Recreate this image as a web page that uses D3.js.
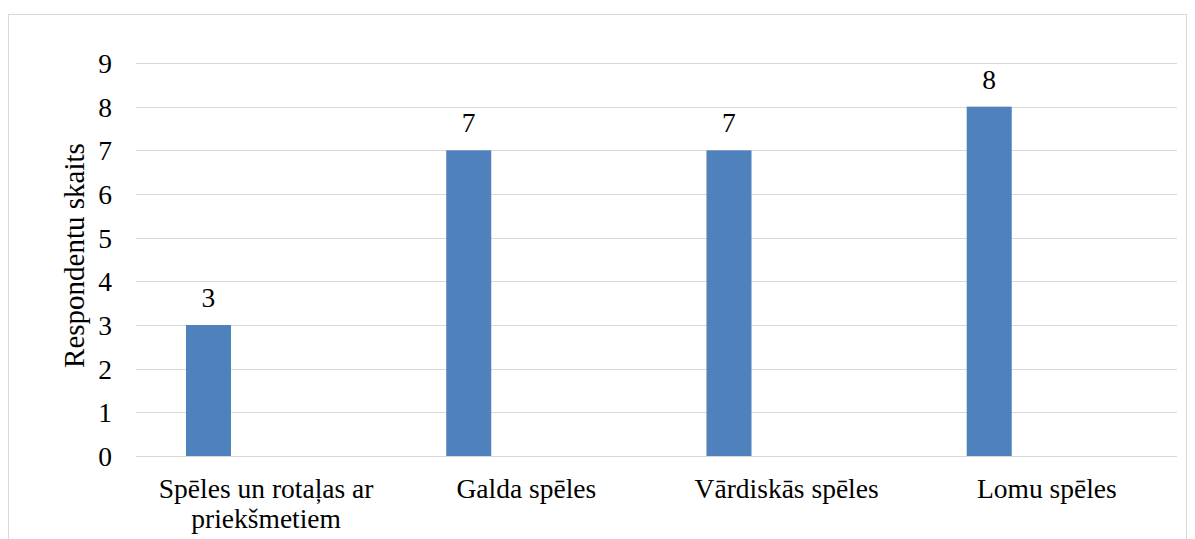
<!DOCTYPE html>
<meta charset="utf-8">
<style>
 body { margin: 0; background: #fff; }
 svg, svg text, svg tspan { font-family: "Times New Roman", "Liberation Serif", Tinos, "DejaVu Serif", serif !important; fill: #000; }
 .grid line { stroke: #d9d9d9; stroke-width: 1.3; shape-rendering: crispEdges; }
 svg rect.bar { fill: #4f81bd; }
</style>
<body>
<script src="https://cdn.jsdelivr.net/npm/d3@7"></script>
<script>

 var categories = ["Spēles un rotaļas ar priekšmetiem", "Galda spēles", "Vārdiskās spēles", "Lomu spēles"];
 var values = [3, 7, 7, 8];
 var yTicks = [0, 1, 2, 3, 4, 5, 6, 7, 8, 9];
 var yLabel = "Respondentu skaits";

 var W = 1195, H = 539;
 var margin = {top: 63, right: 18, bottom: 83, left: 136},
     width = W - margin.left - margin.right,
     height = H - margin.top - margin.bottom;
 var fs = "27.5px";

 var svg = d3.select("body").append("svg")
             .attr("width", W)
             .attr("height", H);

 // chart border
 svg.append("rect")
    .attr("x", 8.5).attr("y", 14.5)
    .attr("width", 1178).attr("height", 560)
    .attr("fill", "none")
    .attr("stroke", "#d9d9d9")
    .attr("stroke-width", 1);

 var g = svg.append("g")
            .attr("transform", "translate(" + margin.left + "," + margin.top + ")");

 var x = d3.scaleBand().domain(categories).range([0, width]);
 var y = d3.scaleLinear().domain([0, 9]).range([height, 0]);

 // gridlines
 g.append("g").attr("class", "grid")
  .selectAll("line")
  .data(yTicks)
  .enter().append("line")
  .attr("x1", 0).attr("x2", width)
  .attr("y1", d => Math.round(y(d)) + 0.5)
  .attr("y2", d => Math.round(y(d)) + 0.5);

 // y axis labels
 var yAxis = d3.axisLeft(y).tickValues(yTicks).tickSize(0).tickPadding(24);
 var gY = g.append("g").call(yAxis).attr("font-family", null);
 gY.select(".domain").remove();
 gY.selectAll("text")
   .attr("font-size", fs)
   .attr("dy", "0.34em")
   .attr("fill", "#000");

 // bars, first slot of each cluster
 var barW = x.bandwidth() * 0.173;
 var barOff = x.bandwidth() * 0.192;

 g.selectAll(".bar")
  .data(values)
  .enter().append("rect")
  .attr("class", "bar")
  .attr("x", (d, i) => x(categories[i]) + barOff)
  .attr("width", barW)
  .attr("y", d => y(d))
  .attr("height", d => height - y(d));

 g.selectAll(".val")
  .data(values)
  .enter().append("text")
  .attr("class", "val")
  .attr("x", (d, i) => x(categories[i]) + barOff + barW / 2)
  .attr("y", d => y(d) - 18)
  .attr("text-anchor", "middle")
  .attr("font-size", fs)
  .text(d => d);

 // category labels, wrapped
 var xAxis = d3.axisBottom(x).tickSize(0).tickPadding(0);
 var gX = g.append("g")
           .attr("transform", "translate(0," + height + ")")
           .call(xAxis)
           .attr("font-family", null);
 gX.select(".domain").remove();
 gX.selectAll("text")
   .attr("font-size", fs)
   .attr("fill", "#000")
   .attr("dy", null)
   .attr("y", null)
   .each(function(d) {
       var t = d3.select(this), words = d.split(" "), line = [], lines = [];
       t.text(null);
       var probe = t.append("tspan");
       words.forEach(function(w) {
           line.push(w);
           probe.text(line.join(" "));
           if (probe.node().getComputedTextLength() > 240 && line.length > 1) {
               line.pop();
               lines.push(line.join(" "));
               line = [w];
           }
       });
       lines.push(line.join(" "));
       probe.remove();
       lines.forEach(function(l, i) {
           t.append("tspan")
            .attr("x", 0)
            .attr("y", 42 + i * 30)
            .text(l);
       });
   });

 // y axis title
 svg.append("text")
    .attr("transform", "translate(84," + (margin.top + height / 2 - 4) + ") rotate(-90)")
    .attr("text-anchor", "middle")
    .attr("font-size", "29px")
    .text(yLabel);

</script>
